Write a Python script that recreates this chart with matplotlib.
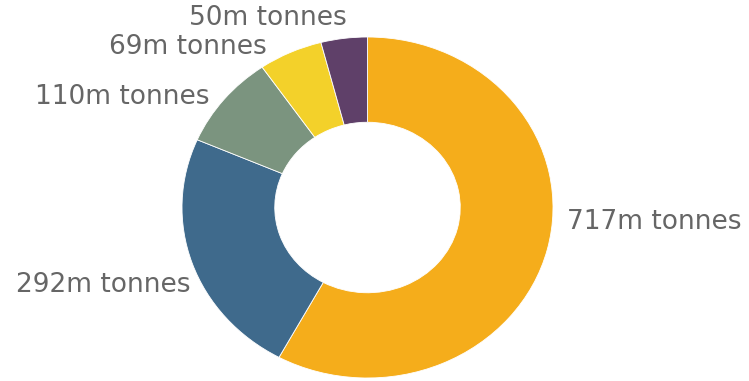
import matplotlib.pyplot as plt

values = [717, 292, 110, 69, 50]
labels = ["717m tonnes", "292m tonnes", "110m tonnes", "69m tonnes", "50m tonnes"]
colors = ["#F5AD1B", "#3F6A8C", "#7B947F", "#F3D12A", "#5F4069"]

W, H = 749, 381
fig = plt.figure(figsize=(W / 100, H / 100), dpi=100)
ax = fig.add_axes([0, 0, 1, 1])

ax.pie(values, colors=colors, startangle=90, counterclock=False,
       wedgeprops=dict(width=0.5, edgecolor="white", linewidth=0.6))

# donut in the picture is a bit wider than tall
cx, cy, rx, ry = 367.5, 207.5, 185.5, 170.5
ax.set_aspect("auto")
ax.set_xlim(-cx / rx, (W - cx) / rx)
ax.set_ylim(-(H - cy) / ry, cy / ry)
ax.axis("off")

# label anchors in pixels (x, y from top, alignment)
spots = [(567, 222, "left"), (190, 285, "right"), (210, 97, "right"),
         (267, 47, "right"), (347, 18, "right")]
for lab, (px, py, ha) in zip(labels, spots):
    fig.text(px / W, 1 - py / H, lab, ha=ha, va="center", fontsize=19,
             color="#666666", family="DejaVu Sans")

fig.savefig("out.png", dpi=100, facecolor="white")
